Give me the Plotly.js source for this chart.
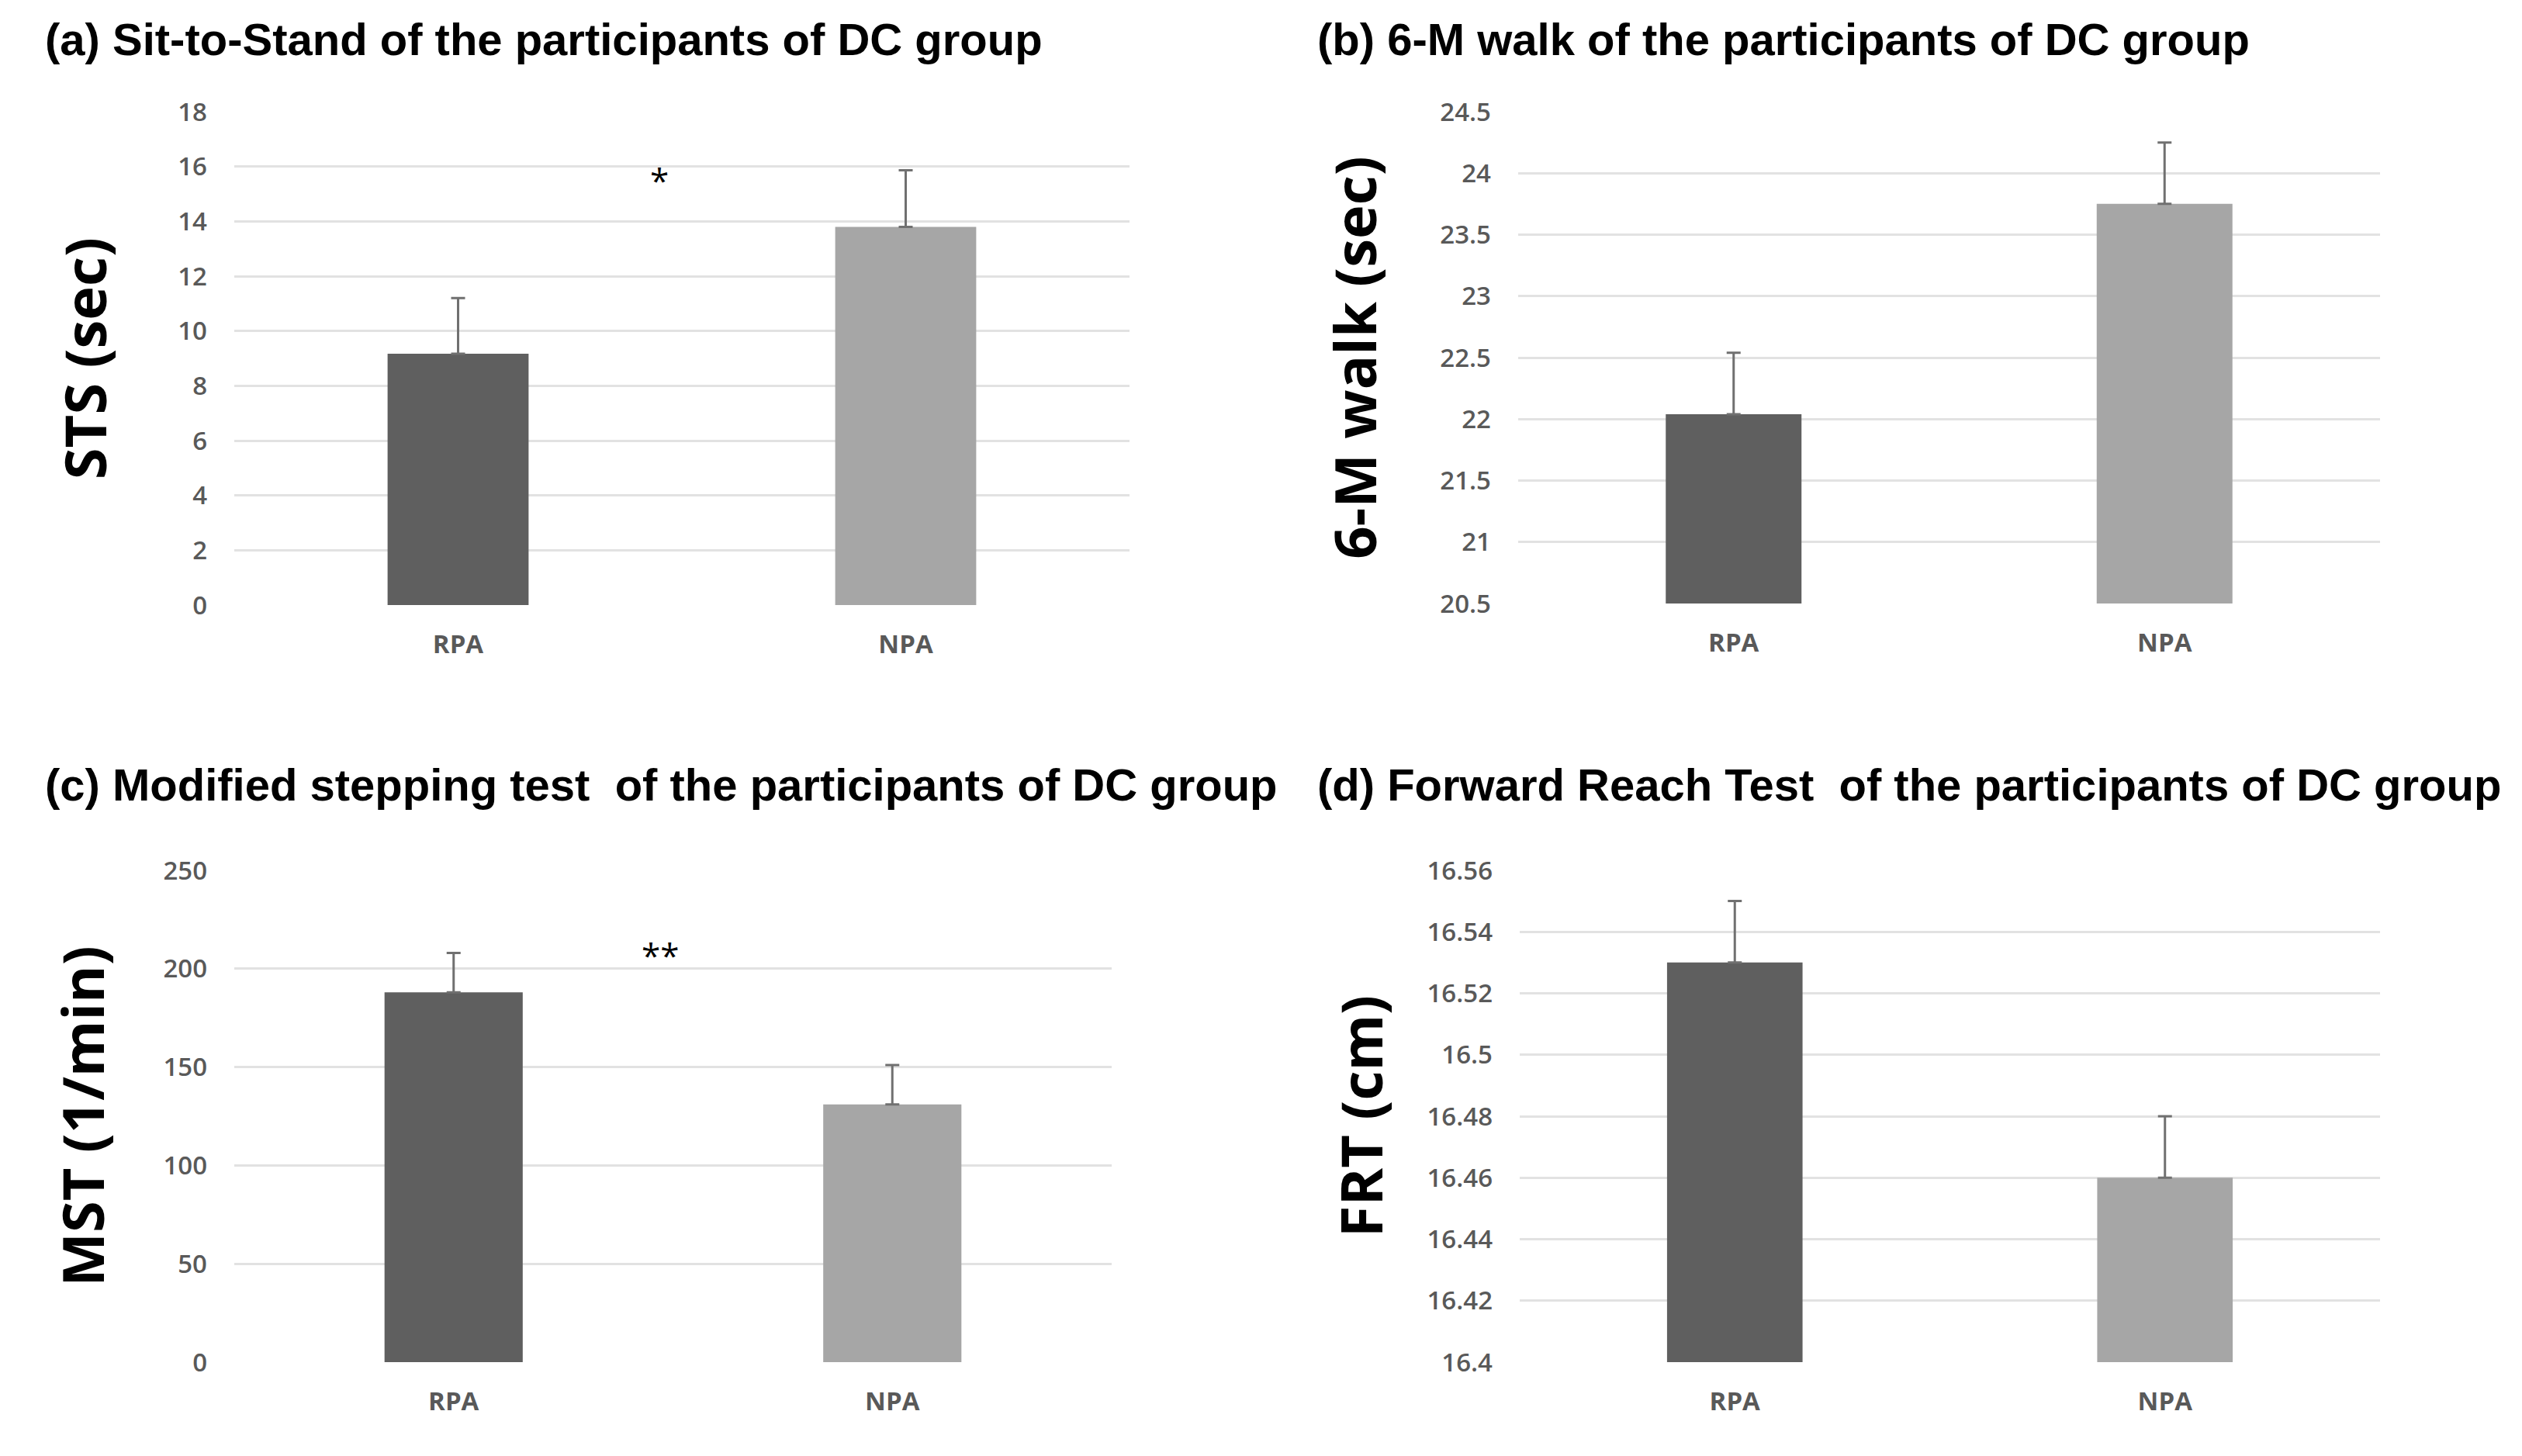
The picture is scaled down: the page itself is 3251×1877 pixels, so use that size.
<!DOCTYPE html>
<html>
<head>
<meta charset="utf-8">
<script src="https://cdn.plot.ly/plotly-3.0.1.min.js"></script>
<style>html,body{margin:0;padding:0;background:#fff}</style>
</head>
<body>
<div id="chart" style="width:3251px;height:1877px"></div>
<script>
// ---- data ----
const groups = ['RPA', 'NPA'];
const barColors = ['#5f5f5f', '#a6a6a6'];

const stsMean = [9.17, 13.8];
const stsErr = [2.03, 2.06];

const walkMean = [22.04, 23.75];
const walkErr = [0.5, 0.5];

const mstMean = [188, 131];
const mstErr = [20, 20];

const frtMean = [16.53, 16.46];
const frtErr = [0.02, 0.02];

const panelTitles = [
  '(a) Sit-to-Stand of the participants of DC group',
  '(b) 6-M walk of the participants of DC group',
  '(c) Modified stepping test  of the participants of DC group',
  '(d) Forward Reach Test  of the participants of DC group'
];
const yTitles = ['STS (sec)', '6-M walk (sec)', 'MST (1/min)', 'FRT (cm)'];
const sigLabels = ['*', '**'];

// ---- traces ----
function barTrace(means, errs, xa, ya) {
  return {
    type: 'bar', x: groups, y: means, xaxis: xa, yaxis: ya,
    marker: {color: barColors, line: {width: 0}},
    error_y: {type: 'data', symmetric: false, array: errs, arrayminus: [0, 0],
              color: '#707070', thickness: 3, width: 9},
    showlegend: false, hoverinfo: 'x+y'
  };
}
const data = [
  barTrace(stsMean, stsErr, 'x', 'y'),
  barTrace(walkMean, walkErr, 'x2', 'y2'),
  barTrace(mstMean, mstErr, 'x3', 'y3'),
  barTrace(frtMean, frtErr, 'x4', 'y4')
];

// ---- layout ----
const W = 3251, H = 1877;
const tickFont = {family: 'Open Sans', size: 33, color: '#595959', weight: 600};
const catFont = {family: 'Open Sans', size: 33, color: '#595959', weight: 700};
const yTitleFont = {family: 'Open Sans', size: 74, color: '#000000', weight: 700};

function xAxis(l, r, anchor) {
  return {domain: [l / W, r / W], anchor: anchor, type: 'category', showgrid: false, zeroline: false,
          showline: false, ticks: '', tickfont: catFont, ticklabelstandoff: 28, fixedrange: true};
}
function yAxis(top, bottom, range, dtick, title, standoff, anchor) {
  return {domain: [1 - bottom / H, 1 - top / H], anchor: anchor, range: range, dtick: dtick, tick0: range[0],
          showgrid: true, gridcolor: '#e2e2e2', gridwidth: 3, zeroline: false, showline: false,
          ticks: '', tickfont: tickFont, ticklabelstandoff: 34,
          title: {text: title, font: yTitleFont, standoff: standoff}, fixedrange: true};
}

const titleFont = {family: 'Liberation Sans', size: 58, color: '#000000', weight: 700};
const annotations = [
  {text: panelTitles[0], x: 56 / W, y: 1 - 50 / H},
  {text: panelTitles[1], x: 1696 / W, y: 1 - 50 / H},
  {text: panelTitles[2], x: 56 / W, y: 1 - 1012 / H},
  {text: panelTitles[3], x: 1696 / W, y: 1 - 1012 / H}
].map(a => Object.assign(a, {xref: 'paper', yref: 'paper', xanchor: 'left', yanchor: 'middle',
                              showarrow: false, font: titleFont}));

annotations.push({text: sigLabels[0], xref: 'x', yref: 'y', x: 0.45, y: 15.5,
                  showarrow: false, xanchor: 'center', yanchor: 'middle',
                  font: {family: 'Open Sans', size: 44, color: '#000000'}});
annotations.push({text: sigLabels[1], xref: 'x3', yref: 'y3', x: 0.47, y: 207,
                  showarrow: false, xanchor: 'center', yanchor: 'middle',
                  font: {family: 'Open Sans', size: 44, color: '#000000'}});

const layout = {
  width: W, height: H,
  margin: {l: 0, r: 0, t: 0, b: 0},
  paper_bgcolor: '#ffffff', plot_bgcolor: '#ffffff',
  bargap: 0.685,
  xaxis: xAxis(302, 1456, 'y'),
  yaxis: yAxis(144, 780, [0, 18], 2, yTitles[0], 67, 'x'),
  xaxis2: xAxis(1957, 3068, 'y2'),
  yaxis2: yAxis(144, 778, [20.5, 24.5], 0.5, yTitles[1], 57, 'x2'),
  xaxis3: xAxis(302, 1433, 'y3'),
  yaxis3: yAxis(1122, 1756, [0, 250], 50, yTitles[2], 51, 'x3'),
  xaxis4: xAxis(1959, 3068, 'y4'),
  yaxis4: yAxis(1122, 1756, [16.4, 16.56], 0.02, yTitles[3], 32, 'x4'),
  annotations: annotations
};

Plotly.newPlot('chart', data, layout, {displayModeBar: false, staticPlot: true});
</script>
</body>
</html>
